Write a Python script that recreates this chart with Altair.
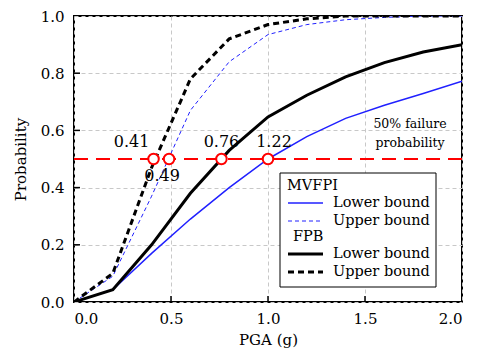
import altair as alt
import pandas as pd

pga = [0.0, 0.2, 0.4, 0.6, 0.8, 1.0, 1.2, 1.4, 1.6, 1.8, 2.0]
mvfpi_lower = [0.0, 0.043, 0.17, 0.29, 0.40, 0.50, 0.578, 0.642, 0.688, 0.729, 0.772]
mvfpi_upper = [0.0, 0.09, 0.37, 0.67, 0.84, 0.935, 0.97, 0.987, 0.995, 1.0, 1.0]
fpb_lower = [0.0, 0.043, 0.20, 0.38, 0.53, 0.647, 0.723, 0.787, 0.837, 0.874, 0.90]
fpb_upper = [0.0, 0.10, 0.47, 0.78, 0.92, 0.97, 0.99, 1.0, 1.0, 1.0, 1.0]

cross_x = [0.41, 0.49, 0.76, 1.0]
cross_labels = ["0.41", "0.49", "0.76", "1.22"]
threshold = [0.5]
x_ticks = [0.0, 0.5, 1.0, 1.5, 2.0]
y_ticks = [0.0, 0.2, 0.4, 0.6, 0.8, 1.0]

FONT = "DejaVu Serif"
W, H = 388, 286

xs = alt.Scale(domain=[0, 2], nice=False)
ys = alt.Scale(domain=[0, 1], nice=False)

xax = alt.Axis(values=x_ticks, format=".1f", title="PGA (g)", grid=True, ticks=False,
               gridDash=[4, 3], gridColor="#c8c8c8", labelFont=FONT, labelFontSize=15,
               titleFont=FONT, titleFontSize=15, titleFontWeight="normal",
               labelPadding=9, titlePadding=6, labelColor="black", titleColor="black", domain=False)
yax = alt.Axis(values=y_ticks, format=".1f", title="Probability", grid=True, ticks=False,
               gridDash=[4, 3], gridColor="#c8c8c8", labelFont=FONT, labelFontSize=15,
               titleFont=FONT, titleFontSize=15, titleFontWeight="normal",
               labelPadding=10, titlePadding=12, labelColor="black", titleColor="black", domain=False)

def X(f):
    return alt.X(f, scale=xs, axis=xax)

def Y(f):
    return alt.Y(f, scale=ys, axis=yax)

def series_df(vals):
    return pd.DataFrame({"pga": pga, "p": vals})

def line(vals, color, width, dash=None):
    kw = dict(color=color, strokeWidth=width, clip=True)
    if dash:
        kw["strokeDash"] = dash
    return alt.Chart(series_df(vals)).mark_line(**kw).encode(x=X("pga:Q"), y=Y("p:Q"))

l_ml = line(mvfpi_lower, "#2020ff", 1.5)
l_mu = line(mvfpi_upper, "#2020ff", 1, dash=[4, 3])
l_fl = line(fpb_lower, "black", 3)
l_fu = line(fpb_upper, "black", 3, dash=[6, 4])

thr = alt.Chart(pd.DataFrame({"p": threshold})).mark_rule(
    color="#ff0000", strokeWidth=2, strokeDash=[14, 8]).encode(
    y=Y("p:Q"), x=alt.value(0), x2=alt.value(W))

cdf = pd.DataFrame({"x": cross_x, "y": threshold * len(cross_x), "lab": cross_labels})
markers = alt.Chart(cdf).mark_point(shape="circle", size=110, filled=False, fill="white",
                                    fillOpacity=1, stroke="#ff0000", strokeWidth=2, opacity=1).encode(
    x=X("x:Q"), y=Y("y:Q"))

offsets = [(-22, -17), (-7, 17), (0, -17), (6, -17)]
label_layers = []
for i, (dx, dy) in enumerate(offsets):
    label_layers.append(
        alt.Chart(cdf.iloc[[i]]).mark_text(font=FONT, fontSize=16, dx=dx, dy=dy, color="black").encode(
            x=X("x:Q"), y=Y("y:Q"), text="lab:N"))

note = alt.Chart(pd.DataFrame({"t": ["50% failure\nprobability"]})).mark_text(
    font=FONT, fontSize=12.5, lineBreak="\n", lineHeight=19, align="center", baseline="middle", color="black").encode(
    x=alt.value(336), y=alt.value(108), text="t:N")

# inward ticks
xt = alt.Chart(pd.DataFrame({"v": x_ticks[1:-1]})).mark_rule(color="black", strokeWidth=1.5).encode(
    x=X("v:Q"), y=alt.value(H), y2=alt.value(H - 6))
yt = alt.Chart(pd.DataFrame({"v": y_ticks[1:-1]})).mark_rule(color="black", strokeWidth=1.5).encode(
    y=Y("v:Q"), x=alt.value(0), x2=alt.value(6))

# legend box
lx0, ly0, lx1, ly1 = 206, 157, 362, 271
box = alt.Chart(pd.DataFrame({"a": [0]})).mark_rect(fill="white", stroke="black", strokeWidth=1).encode(
    x=alt.value(lx0), x2=alt.value(lx1), y=alt.value(ly0), y2=alt.value(ly1))

leg_entries = [
    ("MVFPI", None, 0, None, 170),
    ("Lower bound", "#2020ff", 1.5, None, 187),
    ("Upper bound", "#2020ff", 1, [4, 3], 205),
    ("FPB", None, 0, None, 221),
    ("Lower bound", "black", 3, None, 238),
    ("Upper bound", "black", 3, [6, 4], 256),
]
leg_layers = [box]
for text, col, w, dash, y in leg_entries:
    if col is None:
        tx = 213 if text == "MVFPI" else 219
        leg_layers.append(alt.Chart(pd.DataFrame({"t": [text]})).mark_text(
            font=FONT, fontSize=14.5, align="left", baseline="middle", color="black").encode(
            x=alt.value(tx), y=alt.value(y), text="t:N"))
    else:
        kw = dict(color=col, strokeWidth=w)
        if dash:
            kw["strokeDash"] = dash
        leg_layers.append(alt.Chart(pd.DataFrame({"a": [0]})).mark_rule(**kw).encode(
            x=alt.value(214), x2=alt.value(249), y=alt.value(y)))
        leg_layers.append(alt.Chart(pd.DataFrame({"t": [text]})).mark_text(
            font=FONT, fontSize=14.5, align="left", baseline="middle", color="black").encode(
            x=alt.value(259), y=alt.value(y), text="t:N"))

chart = alt.layer(l_ml, l_mu, l_fl, l_fu, thr, xt, yt, *leg_layers, markers, *label_layers, note).properties(
    width=W, height=H,
    autosize=alt.AutoSizeParams(type="none"),
    padding={"left": 74, "top": 16, "right": 19, "bottom": 56},
    background="white",
).configure_view(stroke="black", strokeWidth=2)

chart.save("out.html", embed_options={"renderer": "svg", "actions": False})
